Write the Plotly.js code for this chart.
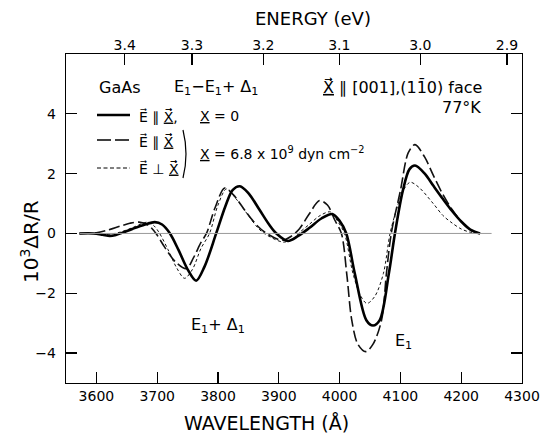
<!DOCTYPE html>
<html>
<head>
<meta charset="utf-8">
<script src="https://cdn.plot.ly/plotly-3.0.1.min.js"></script>
<style>body{margin:0;background:#fff}#chart{width:547px;height:434px}</style>
</head>
<body>
<div id="chart"></div>
<script>
// ---- data ----
// E || X, X = 0 (solid)
const solidX = [3572,3595,3610,3622,3632,3642,3660,3680,3696,3708,3721,3735,3750,3764,3778,3797,3812,3824,3836,3850,3868,3884,3896,3915,3932,3950,3970,3988,4000,4011,4025,4044,4055,4066,4081,4091,4104,4115,4124,4140,4154,4170,4185,4200,4215,4231];
const solidY = [0,0,-0.04,-0.08,-0.05,0.02,0.16,0.3,0.38,0.3,0,-0.55,-1.2,-1.58,-1.1,0,0.9,1.45,1.58,1.35,0.8,0.3,0,-0.25,-0.08,0.18,0.5,0.65,0.42,0,-1.34,-2.9,-3.08,-2.9,-1.34,0,1.43,2.15,2.27,2.0,1.6,1.15,0.75,0.4,0.13,0];
// E || X, X = 6.8e9 dyn/cm2 (long dashes)
const dashX = [3572,3600,3620,3640,3655,3670,3685,3698,3712,3730,3748,3760,3772,3781,3795,3811,3825,3845,3865,3880,3905,3920,3934,3950,3967,3980,3992,4003,4012,4020,4030,4043,4055,4069,4077,4085,4100,4113,4124,4140,4154,4170,4185,4200,4215,4231];
const dashY = [0,0.02,0.12,0.25,0.34,0.38,0.28,0,-0.45,-0.95,-1.18,-0.8,-0.3,0,0.85,1.52,1.3,0.75,0.25,0,-0.23,-0.1,0.16,0.65,1.1,0.95,0.45,0,-1.4,-2.9,-3.7,-3.95,-3.7,-2.9,-1.34,0,1.43,2.7,2.97,2.55,1.95,1.3,0.8,0.4,0.12,0];
// E perp X, X = 6.8e9 dyn/cm2 (short dashes)
const dotX = [3572,3600,3620,3640,3660,3675,3685,3695,3704,3718,3732,3745,3758,3772,3786,3800,3814,3830,3850,3865,3876,3908,3925,3934,3950,3968,3985,3997,4008,4022,4035,4045,4058,4072,4083,4095,4105,4116,4130,4154,4170,4185,4200,4215,4231];
const dotY = [0,0,-0.03,0.05,0.2,0.33,0.38,0.25,0,-0.55,-1.15,-1.5,-1.2,-0.5,0,0.95,1.49,1.15,0.6,0.2,0,-0.29,-0.15,0.03,0.3,0.6,0.72,0.4,0,-1.34,-2.1,-2.34,-2.1,-1.34,0,0.9,1.45,1.71,1.55,1.0,0.6,0.35,0.15,0.04,0];
// zero baseline
const baseX = [3572, 4250];
const baseY = [0, 0];
// axes
const waveTicks = [3600,3700,3800,3900,4000,4100,4200,4300];
const yTicks = [-4,-2,0,2,4];
const energyTicks = [3.4,3.3,3.2,3.1,3.0,2.9];
const energyLabels = ['3.4','3.3','3.2','3.1','3.0','2.9'];

// ---- layout helpers (pixel -> paper) ----
const L = 66, R = 522, T = 54, B = 383;
const px = x => (x - L) / (R - L);
const py = y => (B - y) / (B - T);
const FONT = 'DejaVu Sans, Liberation Sans, sans-serif';

const traces = [
  {x: baseX, y: baseY, xaxis: 'x2', yaxis: 'y', mode: 'lines', line: {color: '#9a9a9a', width: 1}, hoverinfo: 'skip'},
  {x: dotX, y: dotY, mode: 'lines', line: {color: '#111', width: 1, dash: '3px,2.5px', shape: 'spline', smoothing: 0.9}},
  {x: dashX, y: dashY, mode: 'lines', line: {color: '#111', width: 1.6, dash: '11px,4px', shape: 'spline', smoothing: 0.9}},
  {x: solidX, y: solidY, mode: 'lines', line: {color: '#000', width: 2.6, shape: 'spline', smoothing: 0.9}}
];

const axisCommon = {
  showgrid: false, zeroline: false, ticks: 'inside', ticklen: 11, tickwidth: 1.2,
  tickcolor: '#000', linecolor: '#000', linewidth: 1.3, showline: true,
  tickfont: {family: FONT, size: 14, color: '#000'}
};

const X = ' X\u20D7\u20D7';
const ann = (text, x, y, opts) => Object.assign({text, x: px(x), y: py(y), xref: 'paper', yref: 'paper', showarrow: false, font: {family: FONT, size: 16, color: '#000'}, xanchor: 'left', yanchor: 'middle'}, opts || {});

const layout = {
  width: 547, height: 434,
  margin: {l: L, r: 547 - R, t: T, b: 434 - B},
  paper_bgcolor: '#fff', plot_bgcolor: '#fff',
  showlegend: false,
  xaxis: Object.assign({}, axisCommon, {range: [3550, 4300], tickvals: waveTicks, mirror: true}),
  xaxis2: Object.assign({}, axisCommon, {range: [3550, 4300], overlaying: 'x', side: 'top',
    tickvals: energyTicks.map(e => 12398.4 / e), ticktext: energyLabels, showline: false}),
  yaxis: Object.assign({}, axisCommon, {range: [-5, 6], tickvals: yTicks, mirror: 'ticks', ticklabelstandoff: 6}),
  annotations: [
    ann('ENERGY (eV)', 313, 19, {xanchor: 'center', font: {family: FONT, size: 18, color: '#000'}}),
    ann('WAVELENGTH (Å)', 266, 423, {xanchor: 'center', font: {family: FONT, size: 19, color: '#000'}}),
    ann('10<sup>3</sup>ΔR/R', 30, 242, {xanchor: 'center', textangle: -90, font: {family: FONT, size: 20, color: '#000'}}),
    ann('GaAs', 97, 87),
    ann('E<sub>1</sub>−E<sub>1</sub>+ Δ<sub>1</sub>', 172, 87),
    ann('<u>X\u20D7\u20D7</u> ∥ [001],(11\u03040) face', 484, 87, {xanchor: 'right'}),
    ann('77°K', 483, 108, {xanchor: 'right'}),
    ann('E\u20D7 ∥ <u>X\u20D7\u20D7</u>,', 137, 116, {font: {family: FONT, size: 14, color: '#000'}}),
    ann('<u>X</u> = 0', 198, 116, {font: {family: FONT, size: 14, color: '#000'}}),
    ann('E\u20D7 ∥ <u>X\u20D7\u20D7</u>', 137, 141, {font: {family: FONT, size: 14, color: '#000'}}),
    ann('E\u20D7 ⊥ <u>X\u20D7\u20D7</u>', 137, 168, {font: {family: FONT, size: 14, color: '#000'}}),
    ann('<u>X</u> = 6.8 x 10<sup>9</sup> dyn cm<sup>−2</sup>', 198, 153, {font: {family: FONT, size: 14, color: '#000'}}),
    ann('E<sub>1</sub>+ Δ<sub>1</sub>', 218, 325, {xanchor: 'center'}),
    ann('E<sub>1</sub>', 403, 341, {xanchor: 'center'})
  ],
  shapes: [
    {type: 'line', xref: 'paper', yref: 'paper', x0: px(97), x1: px(130), y0: py(115), y1: py(115), line: {color: '#000', width: 2.6}},
    {type: 'line', xref: 'paper', yref: 'paper', x0: px(97), x1: px(130), y0: py(140), y1: py(140), line: {color: '#000', width: 1.6, dash: '14px,4px'}},
    {type: 'line', xref: 'paper', yref: 'paper', x0: px(97), x1: px(130), y0: py(168), y1: py(168), line: {color: '#000', width: 1, dash: '4px,2.5px'}},
    {type: 'path', xref: 'paper', yref: 'paper',
     path: `M ${px(183)} ${py(130)} Q ${px(189)} ${py(154)} ${px(183)} ${py(178)}`, line: {color: '#000', width: 1.2}}
  ]
};

Plotly.newPlot('chart', traces, layout, {displayModeBar: false, staticPlot: true});
</script>
</body>
</html>
